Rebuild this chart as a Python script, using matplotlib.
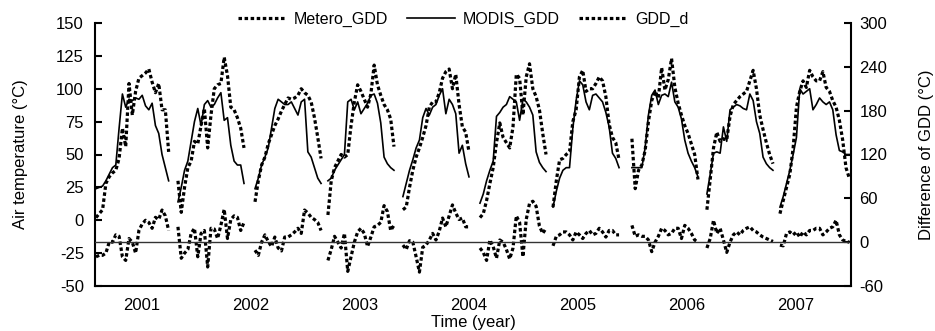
import numpy as np
import matplotlib
matplotlib.use('Agg')
import matplotlib.pyplot as plt

plt.rcParams['font.family'] = ['Liberation Sans', 'DejaVu Sans']
plt.rcParams['axes.unicode_minus'] = False

# ---- data -------------------------------------------------------------
step = 1 / 33  # sampling interval (years)
seg_start = [2000.578, 2001.330, 2002.037, 2002.706, 2003.394,
             2004.101, 2004.771, 2005.495, 2006.183, 2006.853]

metero_gdd = [
    [2, 5, 8, 28, 33, 36, 38, 47, 70, 56, 104, 80, 98, 108, 110, 112, 115, 105, 97, 104, 84, 84, 52],
    [30, 6, 25, 40, 45, 60, 58, 72, 85, 55, 80, 100, 103, 104, 124, 110, 86, 84, 78, 70, 55],
    [14, 30, 42, 48, 58, 65, 72, 77, 83, 88, 93, 92, 93, 95, 100, 97, 95, 90, 78, 63, 47],
    [4, 30, 40, 45, 50, 48, 50, 72, 90, 103, 98, 92, 86, 96, 118, 103, 95, 88, 84, 77, 56],
    [8, 10, 25, 38, 48, 55, 63, 72, 86, 90, 90, 97, 108, 113, 115, 100, 111, 88, 71, 67, 52],
    [2, 5, 15, 28, 40, 59, 74, 63, 59, 55, 71, 111, 108, 80, 109, 119, 100, 94, 84, 66, 50],
    [10, 30, 46, 47, 50, 52, 75, 84, 109, 114, 98, 100, 100, 104, 109, 106, 94, 73, 63, 59, 46],
    [62, 24, 38, 42, 53, 75, 91, 98, 93, 116, 99, 107, 123, 101, 89, 80, 72, 66, 58, 50, 31],
    [8, 31, 55, 67, 60, 62, 61, 79, 88, 91, 94, 96, 98, 106, 114, 100, 80, 69, 59, 50, 43],
    [5, 15, 25, 35, 55, 86, 98, 106, 101, 114, 109, 106, 106, 113, 101, 98, 91, 86, 76, 61, 40, 32],
]

modis_gdd = [
    [24, 25, 26, 30, 35, 40, 42, 70, 96, 86, 92, 91, 93, 92, 95, 87, 84, 89, 72, 66, 50, 40, 30],
    [14, 25, 38, 45, 60, 75, 85, 72, 88, 91, 86, 88, 93, 97, 76, 78, 57, 45, 42, 42, 28],
    [24, 32, 42, 48, 55, 70, 85, 92, 90, 88, 88, 90, 85, 80, 90, 92, 52, 48, 40, 32, 28],
    [30, 32, 38, 42, 46, 50, 90, 92, 84, 90, 81, 85, 89, 95, 96, 89, 74, 48, 43, 40, 38],
    [18, 28, 38, 46, 55, 61, 78, 85, 80, 86, 88, 95, 100, 81, 92, 88, 81, 51, 57, 43, 33],
    [13, 20, 30, 38, 45, 79, 82, 86, 88, 94, 92, 90, 76, 92, 90, 86, 80, 52, 44, 40, 37],
    [10, 22, 32, 38, 40, 40, 70, 91, 106, 103, 90, 84, 95, 96, 93, 90, 82, 71, 51, 47, 40],
    [40, 40, 40, 40, 55, 80, 95, 99, 88, 95, 96, 94, 105, 90, 86, 77, 61, 51, 45, 40, 33],
    [20, 35, 51, 52, 51, 71, 60, 84, 86, 88, 87, 85, 84, 96, 91, 75, 66, 48, 43, 40, 38],
    [10, 18, 28, 38, 50, 63, 100, 96, 98, 100, 84, 88, 93, 90, 88, 90, 84, 65, 53, 52, 50, 50],
]

gdd_d = [
    [-20, -18, -18, -15, 0, 0, 10, 8, -20, -25, 5, 0, -15, 16, 25, 30, 27, 19, 34, 31, 44, 36, 16],
    [21, -22, -15, -10, 12, 19, -20, 12, 16, -34, 19, 18, 5, 23, 45, 5, 31, 36, 34, 16, 27],
    [-11, -18, 0, 10, 1, -6, 7, -8, -12, 7, 7, 10, 14, 19, 12, 44, 40, 34, 31, 27, 16],
    [-25, -10, 8, 0, -8, 12, -40, -20, 0, 14, 19, 12, -6, 7, 21, 23, 27, 50, 42, 16, 23],
    [-4, -10, 2, 0, -20, -41, -7, -4, 3, 12, 3, 15, 33, 21, 36, 51, 40, 31, 33, 21, 21],
    [-8, -14, -25, 3, -6, -22, 3, 0, -10, -23, -8, 36, 27, -20, 31, 53, 56, 49, 22, 12, 19],
    [-5, 8, 10, 14, 14, 10, 3, 14, 10, 5, 12, 16, 10, 12, 19, 14, 7, 16, 16, 10, 10],
    [23, 8, 10, 8, 8, 3, -13, 0, 8, 19, 16, 10, 12, 19, 19, 5, 23, 19, 12, 3, 0],
    [-8, 5, 30, 12, 19, 3, -14, 0, 10, 14, 10, 16, 19, 21, 16, 14, 10, 7, 5, 3, 1],
    [-4, -5, 12, 14, 10, 14, 7, 14, 10, 16, 16, 19, 19, 10, 14, 19, 21, 30, 10, 3, 1, 0],
]

years = [2001, 2002, 2003, 2004, 2005, 2006, 2007]
left_ticks = [-50, -25, 0, 25, 50, 75, 100, 125, 150]
right_ticks = [-60, 0, 60, 120, 180, 240, 300]

# ---- figure -----------------------------------------------------------
fig = plt.figure(figsize=(9.35, 3.31), dpi=100)
ax = fig.add_axes([95 / 935, 1 - 286 / 331, (851 - 95) / 935, (286 - 23) / 331])
ax2 = ax.twinx()

dot = (0, (1.1, 0.8))
for i, s in enumerate(seg_start):
    t = s + np.arange(len(metero_gdd[i])) * step
    l1, = ax.plot(t, metero_gdd[i], color='black', lw=2.3, linestyle=dot,
                  dash_capstyle='butt', label='Metero_GDD')
    t2 = s + np.arange(len(modis_gdd[i])) * step
    l2, = ax.plot(t2, modis_gdd[i], color='black', lw=1.2, label='MODIS_GDD')
    t3 = s + np.arange(len(gdd_d[i])) * step
    l3, = ax2.plot(t3, gdd_d[i], color='black', lw=2.3, linestyle=dot,
                   dash_capstyle='butt', label='GDD_d')

ax2.axhline(0, color='#333333', lw=1.0)

ax.set_xlim(2000.569, 2007.505)
ax.set_ylim(-50, 150)
ax2.set_ylim(-60, 300)
ax.set_yticks(left_ticks)
ax2.set_yticks(right_ticks)
ax.set_xticks(years)
ax.set_xticklabels([str(y) for y in years])

for a in (ax, ax2):
    a.spines['top'].set_visible(False)
    for sp in a.spines.values():
        sp.set_linewidth(1.5)
ax.spines['right'].set_visible(False)
ax2.spines['left'].set_visible(False)
ax2.spines['bottom'].set_visible(False)

ax.tick_params(axis='y', direction='in', length=5, width=1.5, labelsize=12, pad=8)
ax.tick_params(axis='x', length=0, labelsize=12, pad=9)
ax2.tick_params(axis='y', direction='in', length=5, width=1.5, labelsize=12, pad=6)

ax.set_ylabel('Air temperature (°C)', fontsize=12, labelpad=20)
ax2.set_ylabel('Difference of GDD (°C)', fontsize=12, labelpad=23)
ax.set_xlabel('Time (year)', fontsize=12, labelpad=1)

ax.legend(handles=[l1, l2, l3], loc='center', bbox_to_anchor=(0.487, 1.015),
          ncol=3, frameon=False, fontsize=11.5, handlelength=3,
          handletextpad=0.5, columnspacing=1.2, borderaxespad=0)

fig.savefig('out.png', dpi=100)
